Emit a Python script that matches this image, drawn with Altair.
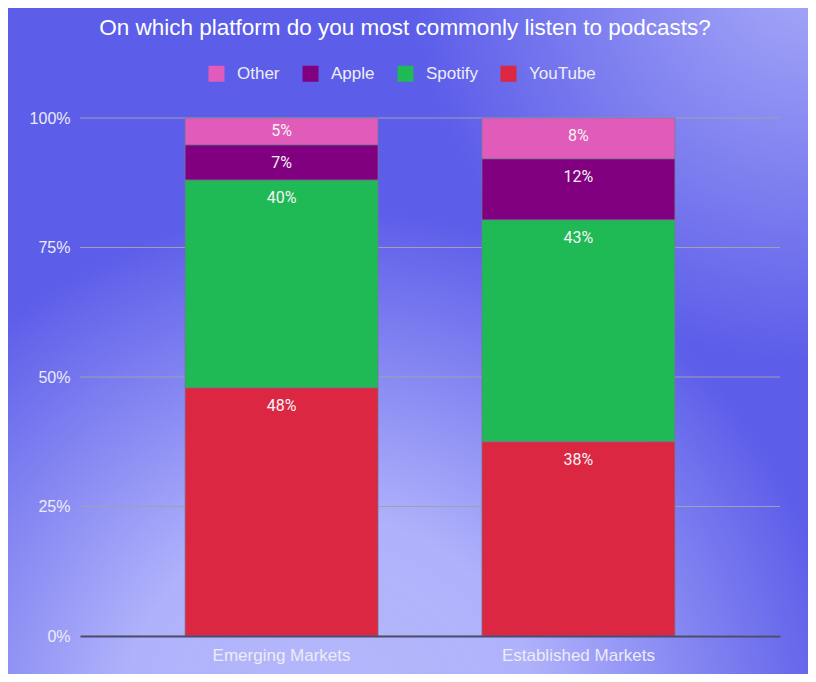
import altair as alt
import pandas as pd

# ---- data ----
markets = ["Emerging Markets", "Established Markets"]
platforms = ["Other", "Apple", "Spotify", "YouTube"]
platform_colors = ["#e15bbb", "#800080", "#1fb955", "#db2742"]
stack_rank = [3, 2, 1, 0]          # YouTube at the base, Other on top
emerging = [5.2, 6.8, 40.1, 47.9]
established = [7.9, 11.8, 42.8, 37.5]
grid_ticks = [0, 25, 50, 75, 100]
title_text = "On which platform do you most commonly listen to podcasts?"

rows = []
for m, vals in zip(markets, [emerging, established]):
    for p, r, v in zip(platforms, stack_rank, vals):
        rows.append({"market": m, "platform": p, "rank": r, "value": v})
df = pd.DataFrame(rows)
grid_df = pd.DataFrame({"tick": grid_ticks})
bg_df = pd.DataFrame({"k": [0]})

W, H = 700, 518
PAD = {"left": 72, "top": 110, "right": 28, "bottom": 38}

x_enc = alt.X(
    "market:N", sort=markets,
    scale=alt.Scale(paddingInner=0.35, paddingOuter=0.354),
    axis=alt.Axis(title=None, labelAngle=0, ticks=False, grid=False,
                  domainColor="#4b4b6e", domainWidth=2,
                  labelFont="Liberation Sans", labelFontSize=17,
                  labelColor="#ececf6", labelPadding=11, zindex=1),
)
y_scale = alt.Scale(domain=[0, 100], nice=False)
y_axis = alt.Axis(title=None, values=grid_ticks,
                  labelExpr="datum.value + '%'", ticks=False,
                  domain=False, grid=False,
                  labelFont="Liberation Sans", labelFontSize=16,
                  labelColor="#ececf6", labelPadding=10, zindex=1)


def bg_layer(fill):
    return alt.Chart(bg_df).mark_rect(fill=fill).encode(
        x=alt.value(-PAD["left"]), x2=alt.value(W + PAD["right"]),
        y=alt.value(-PAD["top"]), y2=alt.value(H + PAD["bottom"]),
    )


glow_low = alt.RadialGradient(
    gradient="radial", x1=0.40, y1=0.98, r1=0, x2=0.40, y2=0.98, r2=0.65,
    stops=[alt.GradientStop(color="rgba(182,184,252,1)", offset=0),
           alt.GradientStop(color="rgba(180,182,252,0.95)", offset=0.4),
           alt.GradientStop(color="rgba(180,182,252,0)", offset=1)],
)
glow_high = alt.RadialGradient(
    gradient="radial", x1=1.0, y1=0.03, r1=0, x2=1.0, y2=0.03, r2=0.5,
    stops=[alt.GradientStop(color="rgba(168,170,248,1)", offset=0),
           alt.GradientStop(color="rgba(168,170,248,0)", offset=1)],
)

grid = alt.Chart(grid_df).mark_rule(color="#a0a0b0", strokeWidth=1).encode(
    y=alt.Y("tick:Q", scale=y_scale, axis=y_axis)
)

bars = alt.Chart(df).mark_bar(
    stroke="#777790", strokeWidth=1, strokeOpacity=0.7
).encode(
    x=x_enc,
    y=alt.Y("value:Q", stack="zero", scale=y_scale, axis=y_axis),
    color=alt.Color(
        "platform:N",
        scale=alt.Scale(domain=platforms, range=platform_colors),
        legend=alt.Legend(
            title=None, orient="none", legendX=128, legendY=-53,
            direction="horizontal", symbolType="square", symbolSize=256,
            symbolStrokeWidth=0, labelFont="Liberation Sans",
            labelFontSize=17, labelColor="#eeeef5", labelOffset=12,
            columnPadding=22, padding=0, zindex=1,
        ),
    ),
    order=alt.Order("rank:Q", sort="ascending"),
)

labels = alt.Chart(df).transform_stack(
    stack="value", groupby=["market"], as_=["y0", "y1"],
    sort=[alt.SortField("rank", order="ascending")],
).transform_calculate(
    ly="datum.y1 - min(3.47, datum.value / 2)",
    lab="format(datum.value, '.0f') + '%'",
).mark_text(
    font="Roboto", fontSize=16, color="#f4f4f4", baseline="middle"
).encode(
    x=alt.X("market:N", sort=markets),
    y=alt.Y("ly:Q", scale=y_scale),
    text="lab:N",
)

chart = alt.layer(
    bg_layer("#5c5de9"), bg_layer(glow_low), bg_layer(glow_high),
    grid, bars, labels,
).properties(
    width=W, height=H,
    padding=PAD,
    autosize=alt.AutoSizeParams(type="none"),
    background="#5c5de9",
    title=alt.TitleParams(
        text=title_text, font="Liberation Sans", fontSize=22.5,
        fontWeight="normal", color="#ffffff", anchor="middle",
        frame="group", dx=-25, offset=-31, zindex=1,
    ),
).configure_view(stroke=None)

chart.save("out.html", embed_options={"renderer": "svg", "actions": False})
